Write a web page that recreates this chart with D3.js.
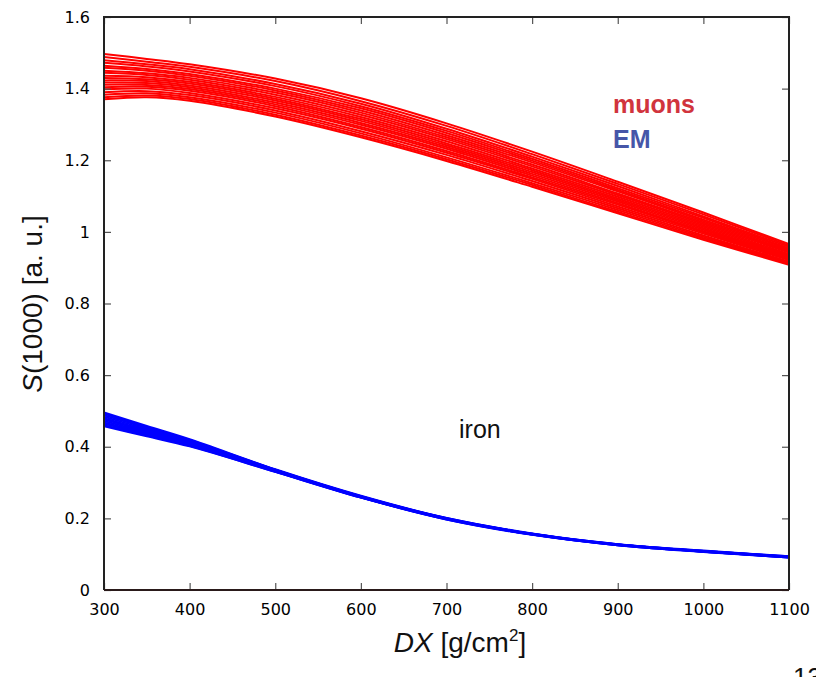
<!DOCTYPE html>
<html>
<head>
<meta charset="utf-8">
<script src="https://cdn.jsdelivr.net/npm/d3@7"></script>
<style>
  html, body { margin: 0; padding: 0; background: #fff; }
  svg { display: block; }
</style>
</head>
<body>
<svg id="chart" width="816" height="677"></svg>
<script>
// Slant depth grid (g/cm^2) at which every curve is sampled
const depths = [300, 350, 400, 500, 600, 700, 800, 900, 1000, 1100];

// Muon component of S(1000), one row per shower
const muonCurves = [
  [1.497, 1.483, 1.468, 1.428, 1.373, 1.303, 1.224, 1.140, 1.054, 0.966],
  [1.488, 1.475, 1.461, 1.421, 1.365, 1.296, 1.217, 1.134, 1.049, 0.962],
  [1.479, 1.468, 1.454, 1.413, 1.358, 1.288, 1.210, 1.128, 1.043, 0.958],
  [1.472, 1.462, 1.448, 1.407, 1.351, 1.282, 1.204, 1.122, 1.039, 0.954],
  [1.464, 1.455, 1.441, 1.400, 1.345, 1.276, 1.199, 1.117, 1.034, 0.951],
  [1.458, 1.450, 1.436, 1.395, 1.339, 1.270, 1.194, 1.113, 1.030, 0.948],
  [1.450, 1.443, 1.430, 1.389, 1.333, 1.264, 1.188, 1.107, 1.026, 0.945],
  [1.444, 1.438, 1.425, 1.383, 1.327, 1.259, 1.183, 1.103, 1.022, 0.942],
  [1.436, 1.432, 1.419, 1.377, 1.321, 1.253, 1.177, 1.098, 1.018, 0.938],
  [1.430, 1.426, 1.414, 1.372, 1.315, 1.247, 1.172, 1.093, 1.014, 0.935],
  [1.423, 1.421, 1.409, 1.367, 1.310, 1.242, 1.167, 1.089, 1.010, 0.932],
  [1.417, 1.416, 1.404, 1.361, 1.304, 1.237, 1.162, 1.085, 1.006, 0.929],
  [1.411, 1.410, 1.399, 1.356, 1.299, 1.232, 1.157, 1.080, 1.002, 0.927],
  [1.404, 1.405, 1.394, 1.351, 1.293, 1.226, 1.152, 1.076, 0.999, 0.924],
  [1.398, 1.400, 1.388, 1.345, 1.288, 1.221, 1.148, 1.071, 0.995, 0.921],
  [1.390, 1.393, 1.382, 1.339, 1.281, 1.215, 1.142, 1.066, 0.990, 0.917],
  [1.383, 1.387, 1.376, 1.333, 1.275, 1.208, 1.136, 1.061, 0.986, 0.914],
  [1.376, 1.381, 1.371, 1.327, 1.269, 1.203, 1.131, 1.056, 0.982, 0.911],
  [1.370, 1.376, 1.366, 1.322, 1.264, 1.198, 1.126, 1.052, 0.978, 0.908]
];

// Electromagnetic component of S(1000), one row per shower
const emCurves = [
  [0.496, 0.458, 0.421, 0.337, 0.263, 0.201, 0.158, 0.128, 0.110, 0.094],
  [0.492, 0.455, 0.419, 0.336, 0.262, 0.201, 0.157, 0.128, 0.109, 0.094],
  [0.488, 0.452, 0.417, 0.336, 0.262, 0.200, 0.157, 0.127, 0.109, 0.093],
  [0.484, 0.449, 0.415, 0.335, 0.261, 0.200, 0.157, 0.127, 0.109, 0.093],
  [0.480, 0.446, 0.413, 0.334, 0.261, 0.200, 0.156, 0.127, 0.108, 0.093],
  [0.476, 0.443, 0.411, 0.333, 0.260, 0.199, 0.156, 0.126, 0.108, 0.092],
  [0.472, 0.440, 0.409, 0.333, 0.260, 0.199, 0.156, 0.126, 0.108, 0.092],
  [0.468, 0.437, 0.407, 0.332, 0.259, 0.198, 0.155, 0.126, 0.107, 0.092],
  [0.464, 0.434, 0.405, 0.331, 0.259, 0.198, 0.155, 0.125, 0.107, 0.091],
  [0.460, 0.431, 0.403, 0.330, 0.258, 0.197, 0.155, 0.125, 0.107, 0.091],
  [0.457, 0.429, 0.401, 0.330, 0.258, 0.197, 0.154, 0.125, 0.106, 0.091]
];

const xTicks = [300, 400, 500, 600, 700, 800, 900, 1000, 1100];
const yTicks = [0, 0.2, 0.4, 0.6, 0.8, 1, 1.2, 1.4, 1.6];
const legendLabels = ["muons", "EM"];
const primaryLabel = "iron";

const svg = d3.select("#chart");
const plot = { left: 104, right: 789, top: 17, bottom: 590 };

const x = d3.scaleLinear().domain([300, 1100]).range([plot.left, plot.right]);
const y = d3.scaleLinear().domain([0, 1.6]).range([plot.bottom, plot.top]);

const tickFont = "'DejaVu Sans', sans-serif";
const titleFont = "'Liberation Sans', Arial, sans-serif";

// Curves, clipped to the frame
svg.append("clipPath").attr("id", "frame-clip")
  .append("rect")
  .attr("x", plot.left).attr("y", plot.top)
  .attr("width", plot.right - plot.left).attr("height", plot.bottom - plot.top);

const line = d3.line()
  .x((d, i) => x(depths[i]))
  .y(d => y(d))
  .curve(d3.curveCatmullRom.alpha(0.5));

const curves = svg.append("g").attr("clip-path", "url(#frame-clip)");

curves.selectAll("path.em").data(emCurves).join("path")
  .attr("class", "em")
  .attr("d", line)
  .attr("fill", "none")
  .attr("stroke", "#0000ff")
  .attr("stroke-width", 2);

curves.selectAll("path.mu").data(muonCurves).join("path")
  .attr("class", "mu")
  .attr("d", line)
  .attr("fill", "none")
  .attr("stroke", "#ff0000")
  .attr("stroke-width", 2);

// Axes with inward ticks on all four sides
const tickColor = "#555";
function styleAxis(g) {
  g.select(".domain").remove();
  g.selectAll(".tick line").attr("stroke", tickColor).attr("stroke-width", 1.2);
  g.selectAll(".tick text").attr("fill", "#000")
    .style("font-family", tickFont).style("font-size", "16px");
}

svg.append("g")
  .attr("transform", `translate(0,${plot.bottom})`)
  .call(d3.axisBottom(x).tickValues(xTicks).tickSizeInner(-7).tickSizeOuter(0).tickPadding(14).tickFormat(d3.format("d")))
  .call(styleAxis);

svg.append("g")
  .attr("transform", `translate(0,${plot.top})`)
  .call(d3.axisTop(x).tickValues(xTicks).tickSizeInner(-7).tickSizeOuter(0).tickFormat(""))
  .call(styleAxis);

svg.append("g")
  .attr("transform", `translate(${plot.left},0)`)
  .call(d3.axisLeft(y).tickValues(yTicks).tickSizeInner(-7).tickSizeOuter(0).tickPadding(14).tickFormat(d => d3.format("~g")(d)))
  .call(styleAxis);

svg.append("g")
  .attr("transform", `translate(${plot.right},0)`)
  .call(d3.axisRight(y).tickValues(yTicks).tickSizeInner(-7).tickSizeOuter(0).tickFormat(""))
  .call(styleAxis);

// Frame
svg.append("path")
  .attr("d", `M${plot.left},${plot.bottom}V${plot.top}H${plot.right}V${plot.bottom}`)
  .attr("fill", "none").attr("stroke", "#222").attr("stroke-width", 2);
svg.append("line")
  .attr("x1", plot.left).attr("x2", plot.right)
  .attr("y1", plot.bottom).attr("y2", plot.bottom)
  .attr("stroke", "#2a1a1a").attr("stroke-width", 2);

// Axis titles
const xTitle = svg.append("text")
  .attr("x", 460).attr("y", 652)
  .attr("text-anchor", "middle")
  .style("font-family", titleFont).style("font-size", "28px").attr("fill", "#111");
xTitle.append("tspan").attr("font-style", "italic").text("DX");
xTitle.append("tspan").text(" [g/cm");
xTitle.append("tspan").attr("font-size", "17px").attr("dy", -11).text("2");
xTitle.append("tspan").attr("dy", 11).text("]");

const yTitle = svg.append("text")
  .attr("transform", "translate(42,304) rotate(-90)")
  .attr("text-anchor", "middle")
  .style("font-family", titleFont).style("font-size", "28px").attr("fill", "#111");
yTitle.append("tspan").attr("font-style", "italic").text("S");
yTitle.append("tspan").text("(1000) [a. u.]");

// Legend
svg.append("text")
  .attr("x", 613).attr("y", 113)
  .style("font-family", titleFont).style("font-size", "25px").style("font-weight", "bold")
  .attr("fill", "#d1343d").text(legendLabels[0]);
svg.append("text")
  .attr("x", 613).attr("y", 148)
  .style("font-family", titleFont).style("font-size", "25px").style("font-weight", "bold")
  .attr("fill", "#4656a8").text(legendLabels[1]);

svg.append("text")
  .attr("x", 459).attr("y", 438)
  .style("font-family", titleFont).style("font-size", "25px")
  .attr("fill", "#111").text(primaryLabel);

// Slide page number, running off the bottom-right corner
svg.append("text")
  .attr("x", 793).attr("y", 686)
  .style("font-family", titleFont).style("font-size", "26px")
  .attr("fill", "#111").text("13");
</script>
</body>
</html>
